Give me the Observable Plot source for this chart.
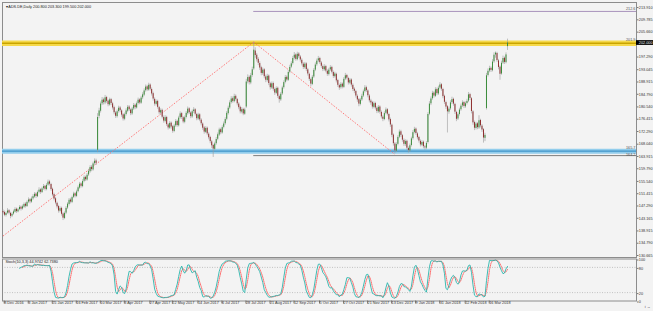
<!DOCTYPE html>
<html><head><meta charset="utf-8">
<script src="https://cdn.jsdelivr.net/npm/d3@7"></script>
<script src="https://cdn.jsdelivr.net/npm/@observablehq/plot@0.6"></script>
<style>
html,body{margin:0;padding:0;background:#f3f3f3;}
#chart{position:relative;width:653px;height:311px;overflow:hidden;background:#f3f3f3;}
#chart svg{position:absolute;left:0;}
</style></head><body><div id="chart"></div>
<script>
const symbolTitle = "ADS.DE,Daily";
const lastBarOHLC = [200.8, 203.3, 199.5, 202.0];
const stochLabel = "Stoch(10,3,3) 44.9742 62.7380";

const open = [145.4,145.1,144.1,144.9,145.7,144.8,143.9,144.6,145.2,146.2,145.3,146.1,146.9,
146.3,146.9,147.9,147.1,148.6,149.4,148.6,
149.7,150.3,151.3,150.4,151.9,152.7,151.8,153.1,153.9,
152.8,154.3,155.4,154.5,152.9,151.1,149.7,
148.2,147.1,145.5,146.5,144.6,143.1,144.9,
146.6,147.8,149.3,148.5,150.2,151.4,150.5,
152.1,153.3,154.7,153.8,155.6,156.9,156.0,
157.7,158.8,160.3,159.4,161.5,162.4,
166.0,
177.4,179.1,181.6,182.9,181.9,183.7,182.5,181.2,183.0,
181.6,180.3,178.5,177.3,179.0,180.2,179.2,177.9,176.4,178.0,179.1,180.5,179.5,178.2,179.9,181.1,180.2,181.7,182.9,181.8,
183.6,184.5,186.0,187.3,186.2,187.9,186.4,185.0,
183.1,181.4,182.4,180.3,178.5,179.4,177.0,175.7,177.0,174.5,173.4,175.1,
173.9,172.3,174.2,175.7,174.2,176.9,178.3,176.9,175.4,177.0,178.3,179.9,178.5,
177.2,179.0,179.6,178.0,176.5,177.9,176.1,
174.8,173.5,172.0,173.4,171.4,170.3,168.8,167.6,166.3,168.2,
169.7,171.1,172.9,171.8,173.7,174.9,
176.4,178.3,180.2,182.0,183.3,182.3,184.1,183.0,
181.5,180.4,178.8,179.7,178.1,
180.5,189.0,190.5,188.6,191.1,
193.3,
199.3,197.9,196.5,
195.1,193.7,191.7,193.0,190.6,189.4,190.9,188.3,186.9,188.4,186.4,185.1,186.8,184.0,
182.9,184.9,187.0,188.8,190.5,189.5,192.2,193.9,
195.1,196.9,198.0,196.4,198.3,197.3,
196.2,194.9,193.7,195.0,193.0,191.5,189.7,
188.1,190.6,192.9,194.7,196.0,196.8,195.3,
194.1,193.0,194.1,192.5,191.4,193.0,193.8,192.1,190.7,
191.5,189.4,187.7,187.0,188.2,
187.1,189.9,191.1,190.1,188.5,189.6,187.8,186.5,
185.7,184.1,183.0,181.4,182.9,
184.2,185.7,187.0,185.9,184.2,
182.5,182.0,180.4,181.7,180.1,178.9,180.5,178.7,
177.1,176.3,178.4,179.6,178.0,176.3,
174.4,171.1,168.1,165.7,
168.0,170.4,172.2,170.9,169.3,167.9,
169.0,166.6,165.8,
167.6,169.9,172.0,173.1,171.5,
170.3,169.0,167.7,168.7,167.1,166.7,
168.6,178.1,
181.6,183.3,185.2,184.1,186.4,184.9,186.9,188.0,
186.4,184.1,182.0,180.6,
178.8,179.9,182.0,183.1,
181.4,178.7,176.5,
178.0,179.6,180.9,182.0,180.6,181.7,
182.5,184.7,
183.3,178.9,175.3,
173.3,174.9,173.5,176.0,174.1,
172.9,170.0,
180.0,
191.1,192.6,193.5,
192.7,195.7,198.0,
198.5,196.0,193.9,
191.6,195.3,196.9,195.4,
200.8];

const high = [146.0,145.6,145.3,146.4,146.1,145.2,145.0,145.9,146.7,146.6,146.5,147.4,147.3,
147.6,148.3,148.4,149.0,150.0,149.8,150.3,
151.1,151.8,151.7,152.3,153.4,153.1,153.6,154.5,154.2,
154.8,156.0,155.9,154.9,153.3,151.6,150.2,
148.6,147.5,147.0,146.9,145.0,145.3,147.1,
148.4,149.8,149.9,150.6,151.9,151.8,152.6,
154.0,155.2,155.1,156.1,157.4,157.3,158.2,
159.6,160.8,160.9,162.0,163.1,163.0,
178.3,
180.1,182.2,183.7,183.5,184.4,184.1,182.9,183.5,183.4,
182.1,180.8,179.0,179.5,180.8,180.7,179.6,178.3,178.5,179.9,181.0,181.0,179.9,180.4,181.7,181.5,182.2,183.5,183.3,184.1,
185.3,186.6,187.9,187.8,188.5,188.3,186.9,185.5,
183.6,182.9,182.8,180.7,179.9,179.8,177.5,177.6,177.4,175.0,175.6,175.5,
174.3,174.7,176.3,176.1,177.4,178.9,178.7,177.3,177.5,179.0,180.5,180.3,178.9,
179.5,180.3,180.0,178.4,178.4,178.3,176.6,
175.2,174.0,173.9,173.8,171.9,170.7,169.3,168.0,168.7,170.3,
171.8,173.4,173.4,174.2,175.5,176.9,
179.0,180.8,182.6,184.0,183.9,184.8,184.6,183.4,
182.0,180.8,180.3,180.1,180.1,
189.8,191.3,191.0,191.8,193.9,
202.3,
200.4,198.5,197.1,
195.7,194.2,193.6,193.4,191.2,191.5,191.3,188.8,188.9,188.9,186.9,187.3,187.2,184.5,
185.4,187.5,189.3,191.1,191.0,192.7,194.5,195.7,
197.5,198.8,198.4,198.9,198.8,197.8,
196.7,195.4,195.5,195.4,193.5,191.9,190.2,
191.1,193.4,195.3,196.6,197.5,197.2,195.8,
194.6,194.7,194.5,193.0,193.5,194.4,194.2,192.6,192.2,
191.9,189.8,188.2,188.7,188.6,
190.4,191.8,191.5,190.5,190.1,190.0,188.3,187.0,
186.1,184.6,183.4,183.4,184.8,
186.2,187.7,187.5,186.3,184.7,
183.1,182.4,182.2,182.1,180.6,181.0,180.9,179.2,
177.6,178.9,180.2,180.0,178.4,176.8,
174.8,171.5,168.6,168.5,
170.9,172.8,172.7,171.3,169.8,169.5,
169.4,167.1,168.1,
170.4,172.6,173.7,173.5,172.0,
170.7,169.5,169.2,169.1,167.6,168.9,
178.6,182.3,
183.9,185.8,185.7,187.0,186.9,187.5,188.7,188.4,
186.8,184.5,182.5,181.0,
180.5,182.6,183.8,183.5,
181.8,179.1,178.5,
180.1,181.5,182.6,182.4,182.2,183.1,
185.4,185.1,
183.7,179.3,175.8,
175.4,175.3,177.6,176.4,174.6,
173.3,171.7,
191.8,
193.3,194.2,194.0,
196.4,198.7,199.0,
198.9,196.5,194.3,
195.9,197.6,197.3,198.7,
203.3];

const low = [144.3,143.7,143.6,144.5,144.3,143.0,143.4,144.2,144.9,144.8,145.0,145.7,145.6,
145.9,146.5,146.6,146.8,148.1,148.0,148.2,
149.2,149.9,149.8,150.1,151.4,151.2,151.5,152.6,152.3,
152.4,153.9,154.0,152.2,150.4,149.0,147.7,
146.3,144.9,145.0,143.9,142.4,142.7,144.4,
146.1,147.3,148.0,148.1,149.8,150.0,150.1,
151.7,152.9,153.3,153.4,155.1,155.5,155.6,
157.2,158.3,158.8,159.0,160.9,160.9,
165.2,
176.6,178.5,181.0,181.2,181.3,181.8,180.6,180.8,181.0,
179.5,177.9,176.7,176.8,178.5,178.6,177.1,175.8,175.9,177.5,178.6,179.0,177.6,177.7,179.4,179.6,179.8,181.2,181.3,181.4,
183.0,184.0,185.5,185.7,185.8,185.9,184.2,182.5,
180.8,180.9,179.8,177.9,177.9,176.5,175.1,175.2,174.0,172.8,173.0,173.1,
171.7,171.9,173.7,173.7,173.8,176.4,176.3,174.9,174.9,176.5,177.8,178.0,176.6,
176.7,178.4,177.5,175.9,176.0,175.6,174.2,
172.7,171.4,171.6,170.9,169.5,168.2,166.6,163.6,165.8,167.7,
169.2,170.6,171.2,171.4,173.2,174.4,
175.9,177.8,179.7,181.5,181.8,181.9,182.5,180.9,
179.6,178.2,178.2,177.6,177.7,
180.0,188.3,187.9,188.0,190.5,
192.8,
196.9,195.6,194.4,
192.8,191.0,191.1,190.0,188.7,188.9,187.7,186.2,186.4,185.8,184.4,184.7,183.4,181.8,
182.4,184.4,186.5,188.3,189.0,189.1,191.7,193.4,
194.6,196.3,195.9,196.0,196.8,195.6,
194.3,193.1,193.2,192.4,190.9,189.1,187.3,
187.7,190.1,192.4,194.2,195.4,194.8,193.5,
192.4,192.5,192.0,190.8,190.9,192.5,191.6,190.1,190.2,
188.6,187.1,186.1,186.5,186.6,
186.7,189.4,189.6,187.9,188.0,187.2,185.7,185.0,
183.5,182.1,180.6,180.9,182.4,
183.7,185.2,185.4,183.6,181.9,
181.1,179.8,179.9,179.5,178.3,178.4,178.1,176.5,
175.6,175.9,177.9,177.5,175.5,173.7,
170.2,167.4,164.8,165.2,
167.5,169.9,170.3,168.7,167.3,167.3,
166.0,165.1,165.3,
167.1,169.4,171.5,171.0,169.5,
168.4,167.1,167.2,166.5,166.0,166.2,
168.1,177.6,
181.0,182.8,183.5,183.7,184.3,184.4,186.3,185.8,
183.3,181.4,179.7,171.8,
178.1,179.4,181.4,180.8,
178.0,175.6,176.0,
177.5,179.1,180.4,180.0,180.1,181.2,
182.0,182.7,
178.2,174.4,172.6,
172.8,172.9,173.0,173.5,172.0,
168.4,168.9,
179.5,
190.6,192.0,192.1,
192.3,195.2,196.9,
195.5,193.0,189.5,
191.2,194.8,194.8,195.0,
199.5];

const close = [145.0,144.2,144.8,145.6,144.9,143.8,144.5,145.3,146.1,145.4,146.0,146.8,146.2,
147.0,147.8,147.2,148.5,149.3,148.7,149.6,
150.4,151.2,150.5,151.8,152.6,151.9,153.0,153.8,152.9,
154.2,155.3,154.6,152.8,151.0,149.6,148.3,
147.0,145.6,146.4,144.5,143.2,144.8,146.5,
147.9,149.2,148.6,150.1,151.3,150.6,152.0,
153.4,154.6,153.9,155.5,156.8,156.1,157.6,
158.9,160.2,159.5,161.4,162.3,161.6,
177.0,
179.2,181.5,182.8,182.0,183.6,182.4,181.3,182.9,181.7,
180.2,178.6,177.4,178.9,180.1,179.3,177.8,176.5,177.9,179.2,180.4,179.6,178.3,179.8,181.0,180.3,181.6,182.8,181.9,183.5,
184.6,185.9,187.2,186.3,187.8,186.5,184.9,183.2,
181.5,182.3,180.4,178.6,179.3,177.1,175.8,176.9,174.6,173.5,175.0,173.8,
172.4,174.1,175.6,174.3,176.8,178.2,177.0,175.5,176.9,178.4,179.8,178.6,177.3,
178.9,179.5,178.1,176.6,177.8,176.2,174.9,
173.4,172.1,173.3,171.5,170.2,168.9,167.5,166.4,168.1,169.6,
171.2,172.8,171.9,173.6,174.8,176.3,
178.4,180.1,181.9,183.2,182.4,184.0,183.1,181.6,
180.3,178.9,179.6,178.2,179.5,
188.9,190.4,188.7,191.0,193.0,
199.6,
197.8,196.4,195.2,
193.6,191.8,192.9,190.7,189.5,190.8,188.4,187.0,188.3,186.5,185.2,186.7,184.1,183.0,
184.8,186.9,188.7,190.4,189.6,192.1,193.8,195.0,
196.8,197.9,196.5,198.2,197.4,196.3,
195.0,193.8,194.9,193.1,191.6,189.8,188.2,
190.5,192.8,194.6,195.9,196.7,195.4,194.2,
193.1,194.0,192.6,191.5,192.9,193.7,192.2,190.8,191.6,
189.3,187.8,186.9,188.1,187.2,
189.8,191.0,190.2,188.6,189.5,187.9,186.4,185.8,
184.2,182.9,181.5,182.8,184.1,
185.6,186.9,186.0,184.3,182.6,
181.9,180.5,181.6,180.2,179.0,180.4,178.8,177.2,
176.4,178.3,179.5,178.1,176.2,174.5,
171.0,168.2,165.8,167.9,
170.3,172.1,171.0,169.4,168.0,168.9,
166.7,165.9,167.5,
169.8,171.9,173.0,171.6,170.2,
169.1,167.8,168.6,167.2,166.8,168.3,
178.0,181.5,
183.2,185.1,184.2,186.3,185.0,186.8,187.9,186.5,
184.0,182.1,180.5,178.9,
179.8,181.9,183.0,181.5,
178.8,176.4,177.9,
179.5,180.8,181.9,180.7,181.6,182.4,
184.6,183.4,
179.0,175.2,173.4,
174.8,173.6,175.9,174.2,172.8,
170.1,171.0,
191.0,
192.5,193.4,192.8,
195.6,197.9,198.6,
196.1,193.8,191.5,
195.2,196.8,195.5,198.0,
202.0];

const xTickBars = [0,16,32,48,64,80,97,112,129,145,161,177,193,210,226,242,258,274,290,307,323];
const xTickLabels = ["8 Dec 2016","3 Jan 2017","25 Jan 2017","16 Feb 2017","10 Mar 2017","3 Apr 2017","27 Apr 2017","22 May 2017","14 Jun 2017","6 Jul 2017","28 Jul 2017","21 Aug 2017","12 Sep 2017","5 Oct 2017","27 Oct 2017","21 Nov 2017","13 Dec 2017","9 Jan 2018","31 Jan 2018","22 Feb 2018","16 Mar 2018"];
const yTicks = [213.910,209.785,205.660,197.290,193.045,188.915,184.790,180.540,176.415,172.290,168.040,163.915,159.790,155.540,151.415,147.290,143.165,138.915,134.790,130.665];
const stochTicks = [100, 80, 20, 0];
const stochLevels = [80, 20];

// drawn objects (prices / bar indices)
const trendStartBar = [0, 167];
const trendStartPrice = [137.2, 202.3];
const trendEndBar = [167, 261];
const trendEndPrice = [202.3, 164.6];
const resistanceLevel = 201.9;
const supportLevel = 165.7;
const upperLevel = 212.6;
const lowerLevel = 164.2;
const levelAnchorBar = 167;

// ---------- build ----------
const bars = close.map((c, i) => ({i, open: open[i], high: high[i], low: low[i], close: c}));

// Stochastic (10,3,3)
(function () {
  const K = 10, S = 3, D = 3, n = bars.length;
  const num = [], den = [];
  for (let i = 0; i < n; i++) {
    if (i < K - 1) { num.push(null); den.push(null); continue; }
    let hh = -Infinity, ll = Infinity;
    for (let j = i - K + 1; j <= i; j++) { hh = Math.max(hh, high[j]); ll = Math.min(ll, low[j]); }
    num.push(close[i] - ll); den.push(hh - ll);
  }
  for (let i = K - 1 + S - 1; i < n; i++) {
    let a = 0, b = 0;
    for (let j = i - S + 1; j <= i; j++) { a += num[j]; b += den[j]; }
    bars[i].k = b === 0 ? 100 : 100 * a / b;
  }
  for (let i = K - 1 + S - 1 + D - 1; i < n; i++) {
    let s = 0;
    for (let j = i - D + 1; j <= i; j++) s += bars[j].k;
    bars[i].d = s / D;
  }
})();

const W = 653, mL = 2, mR = 17;
const xDom = [-0.33, 421.9];
const pxPerBar = (W - mL - mR) / (xDom[1] - xDom[0]);
const FONT = "Liberation Sans, Arial, sans-serif";
const TXT = "#333";
const FS = 3.8;

const trends = trendStartBar.map((b, k) => ({b1: b, p1: trendStartPrice[k], b2: trendEndBar[k], p2: trendEndPrice[k]}));
const lastClose = close[close.length - 1];
const f3 = d => d.toFixed(3);
const header = "\u25BE " + symbolTitle + " " + lastBarOHLC.map(f3).join(" ");

const pricePlot = Plot.plot({
  width: W, height: 258,
  marginLeft: mL, marginRight: mR, marginTop: 2, marginBottom: 1,
  x: {domain: xDom, axis: null},
  y: {domain: [130.0, 215.6], axis: null},
  style: {background: "transparent", fontFamily: FONT, overflow: "visible"},
  marks: [
    Plot.frame({stroke: "#8c8c8c", strokeWidth: 1}),
    Plot.ruleY([upperLevel], {x1: levelAnchorBar, x2: xDom[1], stroke: "#a993bd", strokeWidth: 1}),
    Plot.ruleY([lowerLevel], {x1: levelAnchorBar, x2: xDom[1], stroke: "#6e6e6e", strokeWidth: 0.9}),
    Plot.ruleY([resistanceLevel], {stroke: "#f6d94a", strokeWidth: 5.5}),
    Plot.ruleY([resistanceLevel], {stroke: "#c9a400", strokeWidth: 1.6}),
    Plot.ruleY([supportLevel], {stroke: "#92cdec", strokeWidth: 5}),
    Plot.ruleY([supportLevel], {stroke: "#3f93c8", strokeWidth: 1.4}),
    Plot.link(trends, {x1: "b1", y1: "p1", x2: "b2", y2: "p2", stroke: "#ff6b6b", strokeWidth: 0.9, strokeDasharray: "1.5,1.5"}),
    Plot.ruleX(bars, {x: "i", y1: "low", y2: "high", stroke: "#9a9a9a", strokeWidth: 0.6}),
    Plot.ruleX(bars, {x: "i", y1: "open", y2: "close", stroke: d => d.close >= d.open ? "#3c8d3c" : "#8f3030", strokeWidth: 1.0}),
    Plot.text([upperLevel], {x: xDom[1], y: d => d, text: d => d.toFixed(1), textAnchor: "end", dx: -1, dy: -2.6, fontSize: FS, fill: "#555"}),
    Plot.text([resistanceLevel], {x: xDom[1], y: d => d, text: d => d.toFixed(1), textAnchor: "end", dx: -1, dy: -3.4, fontSize: FS, fill: "#555"}),
    Plot.text([supportLevel], {x: xDom[1], y: d => d, text: d => d.toFixed(1), textAnchor: "end", dx: -1, dy: -3.2, fontSize: FS, fill: "#555"}),
    Plot.text([lowerLevel], {x: xDom[1], y: d => d, text: d => d.toFixed(1), textAnchor: "end", dx: -1, dy: -1, fontSize: FS, fill: "#555"}),
    Plot.axisY(yTicks, {anchor: "right", tickFormat: f3, tickSize: 1.5, tickPadding: 0.8, fontSize: FS, stroke: "#777", fill: TXT}),
    Plot.rect([lastClose], {x1: () => xDom[1], x2: () => xDom[1] + 17 / pxPerBar, y1: d => d - 0.8, y2: d => d + 0.8, fill: "#000"}),
    Plot.text([lastClose], {x: () => xDom[1], y: d => d, text: f3, textAnchor: "start", dx: 2.3, fontSize: FS, fill: "#fff"}),
    Plot.text([header], {frameAnchor: "top-left", dx: 3, dy: 2.5, textAnchor: "start", lineAnchor: "top", fontSize: FS, fill: "#222"})
  ]
});

const labelByBar = new Map(xTickBars.map((b, k) => [b, xTickLabels[k]]));
const stochData = bars.filter(d => d.k != null);
const sigData = bars.filter(d => d.d != null);

const stochPlot = Plot.plot({
  width: W, height: 53,
  marginLeft: mL, marginRight: mR, marginTop: 1.5, marginBottom: 9.5,
  x: {domain: xDom, axis: null},
  y: {domain: [0, 100], axis: null},
  style: {background: "transparent", fontFamily: FONT, overflow: "visible"},
  marks: [
    Plot.ruleY(stochLevels, {stroke: "#b5b5b5", strokeWidth: 0.8, strokeDasharray: "1,1.5"}),
    Plot.line(sigData, {x: "i", y: "d", stroke: "#ff6060", strokeWidth: 0.9, strokeDasharray: "1.2,1"}),
    Plot.line(stochData, {x: "i", y: "k", stroke: "#2bb5ad", strokeWidth: 0.9}),
    Plot.frame({stroke: "#8c8c8c", strokeWidth: 1}),
    Plot.axisY(stochTicks, {anchor: "right", tickSize: 1.5, tickPadding: 0.8, fontSize: FS, dy: 1, stroke: "#777", fill: TXT}),
    Plot.axisX(xTickBars, {anchor: "bottom", tickFormat: d => labelByBar.get(d), tickSize: 3, tickPadding: -2.6, textAnchor: "start", dx: 1.2, fontSize: FS, stroke: "#777", fill: TXT}),
    Plot.text([stochLabel], {frameAnchor: "top-left", dx: 3, dy: 1.5, textAnchor: "start", lineAnchor: "top", fontSize: FS, fill: "#222"})
  ]
});

const root = document.getElementById("chart");
pricePlot.style.top = "0px";
stochPlot.style.top = "257px";
root.appendChild(pricePlot);
root.appendChild(stochPlot);
</script>
</body></html>
